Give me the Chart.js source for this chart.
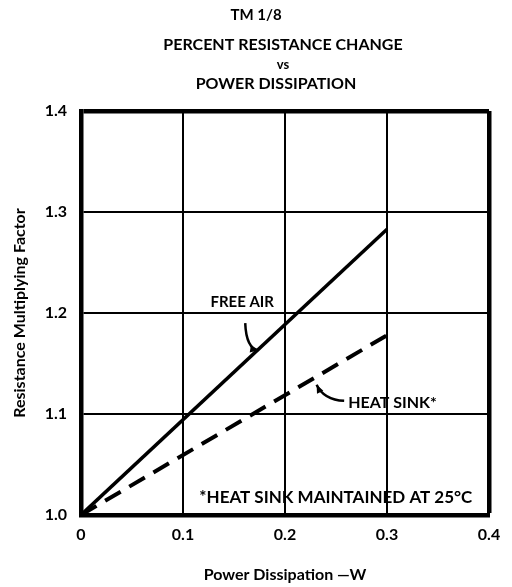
<!DOCTYPE html>
<html>
<head>
<meta charset="utf-8">
<script src="https://cdn.jsdelivr.net/npm/chart.js@4"></script>
<style>
  html, body { margin: 0; padding: 0; background: #fff; }
  #wrap { width: 512px; height: 587px; }
</style>
</head>
<body>
<div id="wrap"><canvas id="chart" width="512" height="587"></canvas></div>
<script>
"use strict";
// values
var powerW = [0, 0.3];
var freeAir = [1.0, 1.283];
var heatSink = [1.0, 1.178];
var xTicks = [0, 0.1, 0.2, 0.3, 0.4];
var yTicks = [1.0, 1.1, 1.2, 1.3, 1.4];

var FONT = "Lato, 'DejaVu Sans', sans-serif";

function pts(xs, ys) {
    return xs.map((x, i) => ({x: x, y: ys[i]}));
}

// headings, labels and curved arrows
var notes = {
    id: 'notes',
    afterDraw: (chart) => {
        var c = chart.ctx, xs = chart.scales.x, ys = chart.scales.y;
        var px = (v) => xs.getPixelForValue(v), py = (v) => ys.getPixelForValue(v);
        c.save();
        c.fillStyle = '#000';
        c.strokeStyle = '#000';
        c.textAlign = 'center';
        c.textBaseline = 'middle';

        c.font = 'bold 15px ' + FONT;
        c.fillText('TM 1/8', 256, 15);
        c.font = 'bold 16px ' + FONT;
        c.fillText('PERCENT RESISTANCE CHANGE', 283, 45);
        c.font = 'bold 13px ' + FONT;
        c.fillText('vs', 283, 65);
        c.font = 'bold 16px ' + FONT;
        c.fillText('POWER DISSIPATION', 276, 84);

        c.font = 'bold 15px ' + FONT;
        c.fillText('FREE AIR', px(0.158), py(1.211));
        c.textAlign = 'left';
        c.font = 'bold 16px ' + FONT;
        c.fillText('HEAT SINK*', px(0.262), py(1.111));
        c.font = 'bold 17px ' + FONT;
        c.fillText('*HEAT SINK MAINTAINED AT 25\u00b0C', px(0.116), py(1.017));

        // arrows
        var arrow = (x0, y0, cx, cy, x1, y1) => {
            c.lineWidth = 2.5;
            c.beginPath();
            c.moveTo(x0, y0);
            c.quadraticCurveTo(cx, cy, x1, y1);
            c.stroke();
            var a = Math.atan2(y1 - cy, x1 - cx);
            c.beginPath();
            c.moveTo(x1, y1);
            c.lineTo(x1 - 9 * Math.cos(a - 0.4), y1 - 9 * Math.sin(a - 0.4));
            c.lineTo(x1 - 9 * Math.cos(a + 0.4), y1 - 9 * Math.sin(a + 0.4));
            c.closePath();
            c.fill();
        };
        arrow(px(0.161), py(1.19), px(0.162), py(1.165), px(0.174), py(1.163));
        arrow(px(0.258), py(1.113), px(0.238), py(1.114), px(0.231), py(1.129));
        c.restore();
    }
};

var chart = new Chart(document.getElementById('chart'), {
    type: 'line',
    data: {
        datasets: [{
            label: 'FREE AIR',
            data: pts(powerW, freeAir),
            borderColor: '#000',
            borderWidth: 3.5,
            pointRadius: 0,
            tension: 0
        }, {
            label: 'HEAT SINK*',
            data: pts(powerW, heatSink),
            borderColor: '#000',
            borderWidth: 4,
            borderDash: [18, 10],
            pointRadius: 0,
            tension: 0
        }]
    },
    options: {
        responsive: false,
        animation: false,
        layout: {padding: {top: 111, right: 23, left: 0, bottom: 0}},
        plugins: {legend: {display: false}, tooltip: {enabled: false}},
        scales: {
            x: {
                type: 'linear',
                min: 0, max: 0.4,
                afterFit: (s) => { s.height = 72; },
                afterBuildTicks: (s) => { s.ticks = xTicks.map(v => ({value: v})); },
                ticks: {
                    padding: 10, color: '#000',
                    font: {family: FONT, size: 16, weight: 'bold'},
                    callback: (v) => v === 0 ? '0' : v.toFixed(1)
                },
                grid: {
                    color: '#000', drawTicks: false,
                    lineWidth: (ctx) => ctx.index === xTicks.length - 1 ? 4.5 : 2
                },
                border: {color: '#000', width: 4.5},
                title: {
                    display: true, text: 'Power Dissipation \u2014W', color: '#000',
                    font: {family: FONT, size: 16, weight: 'bold'},
                    padding: {top: 0, bottom: 3}
                }
            },
            y: {
                min: 1.0, max: 1.4,
                afterFit: (s) => { s.width = 81; },
                afterBuildTicks: (s) => { s.ticks = yTicks.map(v => ({value: v})); },
                ticks: {
                    padding: 14, color: '#000',
                    font: {family: FONT, size: 16, weight: 'bold'},
                    callback: (v) => v.toFixed(1)
                },
                grid: {
                    color: '#000', drawTicks: false,
                    lineWidth: (ctx) => ctx.index === yTicks.length - 1 ? 4.5 : 2
                },
                border: {color: '#000', width: 4.5},
                title: {
                    display: true, text: 'Resistance Multiplying Factor', color: '#000',
                    font: {family: FONT, size: 16, weight: 'bold'},
                    padding: {top: 10, bottom: 0}
                }
            }
        }
    },
    plugins: [notes]
});
</script>
</body>
</html>
